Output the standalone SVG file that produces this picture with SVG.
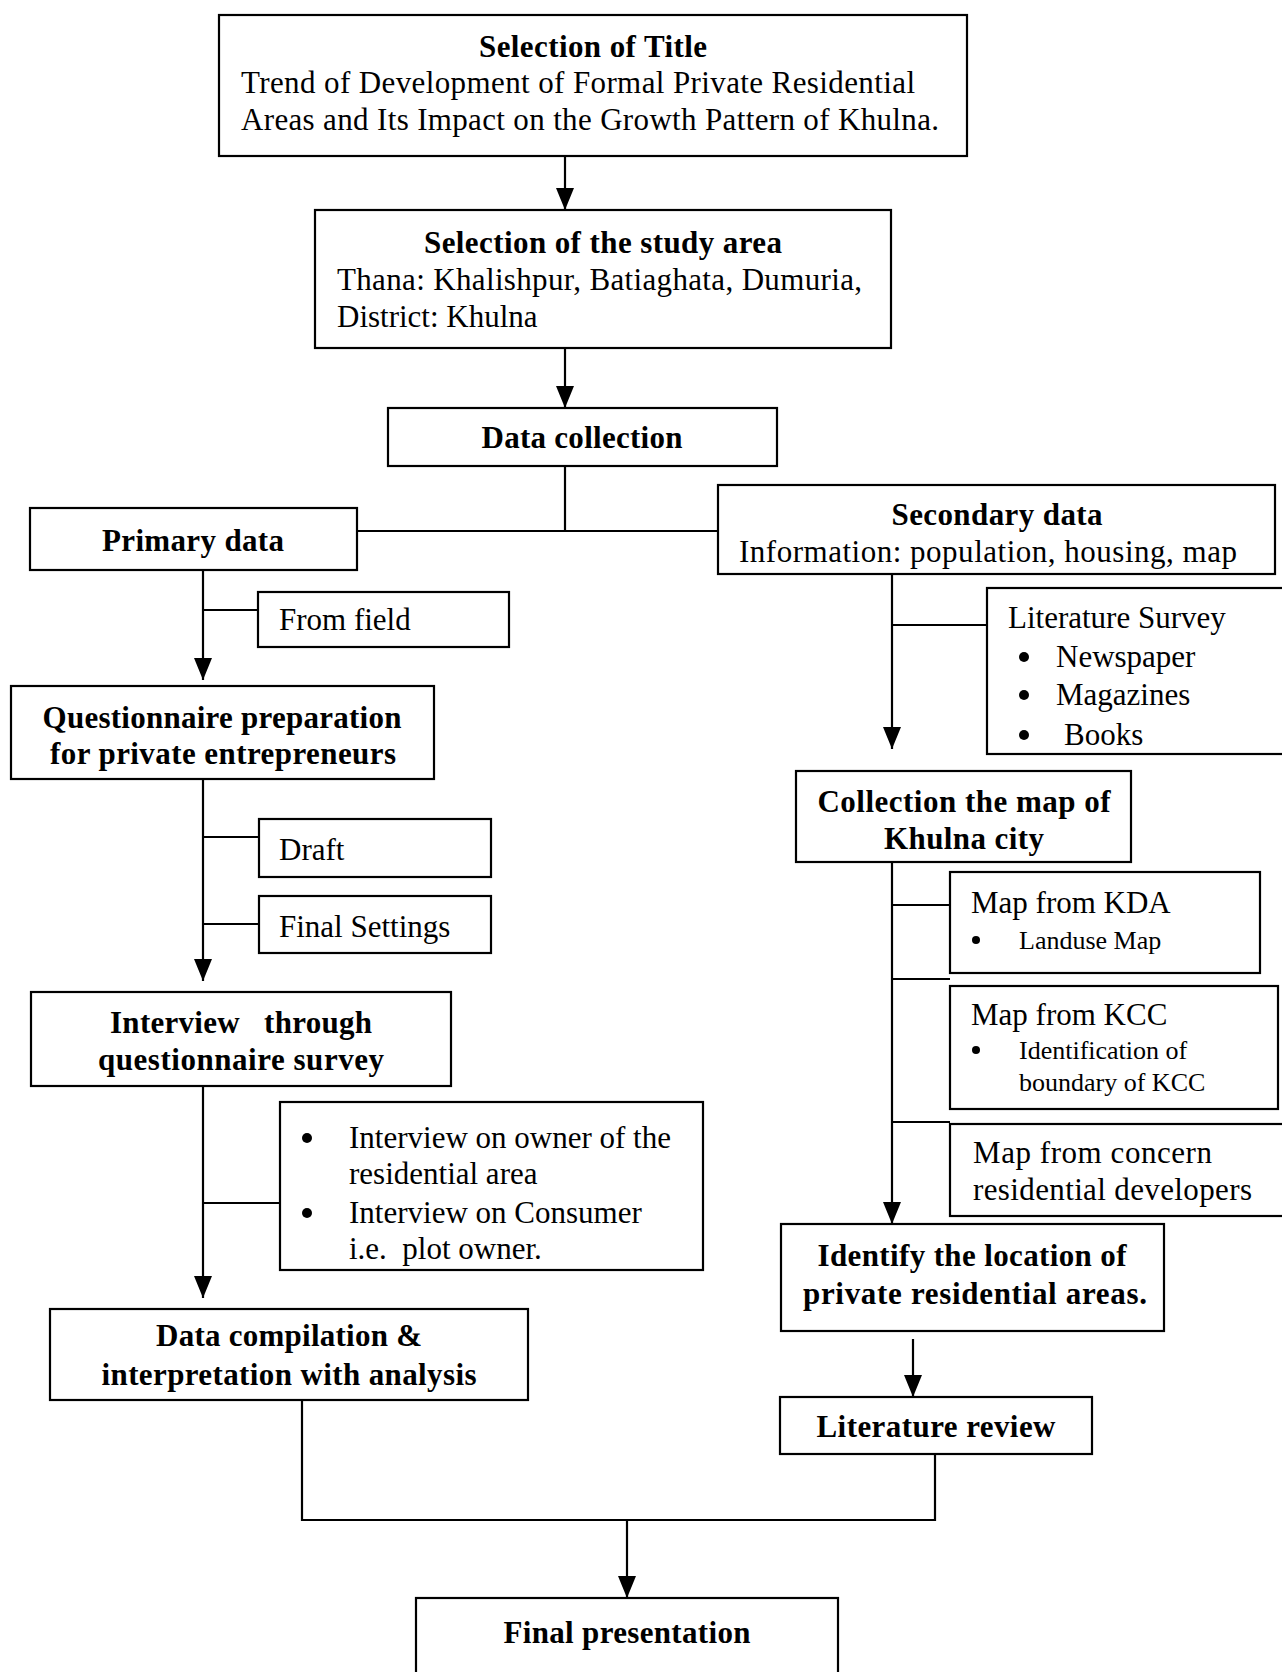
<svg xmlns="http://www.w3.org/2000/svg" width="1282" height="1672" viewBox="0 0 1282 1672">
<defs>
<marker id="arr" markerUnits="userSpaceOnUse" markerWidth="22" markerHeight="18" refX="22" refY="9" orient="auto" viewBox="0 0 22 18">
<path d="M0,0 L22,9 L0,18 Z" fill="#000"/>
</marker>
<style>
.box{fill:#fff;stroke:#000;stroke-width:2.2}
.ln{fill:none;stroke:#000;stroke-width:2.2}
.ar{fill:none;stroke:#000;stroke-width:2.2}
.dot{fill:#000}
text{font-family:"Liberation Serif","Times New Roman",serif;fill:#000;font-size:31px}
.b{font-weight:bold}
.c{text-anchor:middle}
.s{font-size:26px}
</style>
</defs>
<rect width="1282" height="1672" fill="#fff"/>

<g id="connectors">
<line class="ar" x1="565" y1="156" x2="565" y2="210" marker-end="url(#arr)"/>
<line class="ar" x1="565" y1="348" x2="565" y2="408" marker-end="url(#arr)"/>
<polyline class="ln" points="565,466 565,531"/>
<line class="ln" x1="357" y1="531" x2="718" y2="531"/>
<line class="ar" x1="203" y1="570" x2="203" y2="680" marker-end="url(#arr)"/>
<line class="ln" x1="203" y1="610" x2="258" y2="610"/>
<line class="ar" x1="203" y1="779" x2="203" y2="981" marker-end="url(#arr)"/>
<line class="ln" x1="203" y1="837" x2="259" y2="837"/>
<line class="ln" x1="203" y1="924" x2="259" y2="924"/>
<line class="ar" x1="203" y1="1086" x2="203" y2="1298" marker-end="url(#arr)"/>
<line class="ln" x1="203" y1="1203" x2="280" y2="1203"/>
<polyline class="ln" points="302,1400 302,1520 935,1520 935,1454"/>
<line class="ar" x1="627" y1="1520" x2="627" y2="1598" marker-end="url(#arr)"/>
<line class="ar" x1="892" y1="574" x2="892" y2="749" marker-end="url(#arr)"/>
<line class="ln" x1="892" y1="625" x2="987" y2="625"/>
<line class="ar" x1="892" y1="862" x2="892" y2="1224" marker-end="url(#arr)"/>
<line class="ln" x1="892" y1="905" x2="950" y2="905"/>
<line class="ln" x1="892" y1="979" x2="950" y2="979"/>
<line class="ln" x1="892" y1="1122" x2="950" y2="1122"/>
<line class="ar" x1="913" y1="1339" x2="913" y2="1397" marker-end="url(#arr)"/>
</g>

<g id="title">
<rect class="box" x="219" y="15" width="748" height="141"/>
<text class="b c" x="593" y="57" textLength="228">Selection of Title</text>
<text x="241" y="93" textLength="674">Trend of Development of Formal Private Residential</text>
<text x="241" y="130" textLength="698">Areas and Its Impact on the Growth Pattern of Khulna.</text>
</g>

<g id="study-area">
<rect class="box" x="315" y="210" width="576" height="138"/>
<text class="b c" x="603" y="253" textLength="358">Selection of the study area</text>
<text x="337" y="290" textLength="525">Thana: Khalishpur, Batiaghata, Dumuria,</text>
<text x="337" y="327">District: Khulna</text>
</g>

<g id="data-collection">
<rect class="box" x="388" y="408" width="389" height="58"/>
<text class="b c" x="582" y="448" textLength="201">Data collection</text>
</g>

<g id="primary-data">
<rect class="box" x="30" y="508" width="327" height="62"/>
<text class="b c" x="193" y="551" textLength="182">Primary data</text>
</g>

<g id="secondary-data">
<rect class="box" x="718" y="485" width="557" height="89"/>
<text class="b c" x="997" y="525" textLength="211">Secondary data</text>
<text class="c" x="988" y="562" textLength="498">Information: population, housing, map</text>
</g>

<g id="from-field">
<rect class="box" x="258" y="592" width="251" height="55"/>
<text x="279" y="630">From field</text>
</g>

<g id="questionnaire">
<rect class="box" x="11" y="686" width="423" height="93"/>
<text class="b c" x="222" y="728" textLength="359">Questionnaire preparation</text>
<text class="b c" x="223" y="764" textLength="346">for private entrepreneurs</text>
</g>

<g id="draft">
<rect class="box" x="259" y="819" width="232" height="58"/>
<text x="279" y="860">Draft</text>
</g>

<g id="final-settings">
<rect class="box" x="259" y="896" width="232" height="57"/>
<text x="279" y="937">Final Settings</text>
</g>

<g id="interview">
<rect class="box" x="31" y="992" width="420" height="94"/>
<text class="b" x="110" y="1033" textLength="262" xml:space="preserve">Interview   through</text>
<text class="b c" x="241" y="1070" textLength="286">questionnaire survey</text>
</g>

<g id="interview-details">
<rect class="box" x="280" y="1102" width="423" height="168"/>
<circle class="dot" cx="307" cy="1138" r="5"/>
<text x="349" y="1148">Interview on owner of the</text>
<text x="349" y="1184">residential area</text>
<circle class="dot" cx="307" cy="1213" r="5"/>
<text x="349" y="1223">Interview on Consumer</text>
<text x="349" y="1259" xml:space="preserve">i.e.  plot owner.</text>
</g>

<g id="data-compilation">
<rect class="box" x="50" y="1309" width="478" height="91"/>
<text class="b c" x="289" y="1346" textLength="266">Data compilation &amp;</text>
<text class="b c" x="289" y="1385" textLength="375">interpretation with analysis</text>
</g>

<g id="literature-survey">
<rect class="box" x="987" y="588" width="300" height="166"/>
<text x="1008" y="628">Literature Survey</text>
<circle class="dot" cx="1024" cy="657" r="5"/>
<text x="1056" y="667">Newspaper</text>
<circle class="dot" cx="1024" cy="695" r="5"/>
<text x="1056" y="705">Magazines</text>
<circle class="dot" cx="1024" cy="735" r="5"/>
<text x="1064" y="745">Books</text>
</g>

<g id="collection-map">
<rect class="box" x="796" y="771" width="335" height="91"/>
<text class="b c" x="964" y="812" textLength="293">Collection the map of</text>
<text class="b c" x="964" y="849" textLength="160">Khulna city</text>
</g>

<g id="map-kda">
<rect class="box" x="950" y="872" width="310" height="101"/>
<text x="971" y="913">Map from KDA</text>
<circle class="dot" cx="976" cy="940" r="4"/>
<text class="s" x="1019" y="949">Landuse Map</text>
</g>

<g id="map-kcc">
<rect class="box" x="950" y="986" width="328" height="123"/>
<text x="971" y="1025">Map from KCC</text>
<circle class="dot" cx="976" cy="1050" r="4"/>
<text class="s" x="1019" y="1059">Identification of</text>
<text class="s" x="1019" y="1091">boundary of KCC</text>
</g>

<g id="map-concern">
<rect class="box" x="950" y="1124" width="340" height="92"/>
<text x="973" y="1163" textLength="239">Map from concern</text>
<text x="973" y="1200" textLength="279">residential developers</text>
</g>

<g id="identify-location">
<rect class="box" x="781" y="1224" width="383" height="107"/>
<text class="b c" x="972" y="1266" textLength="309">Identify the location of</text>
<text class="b c" x="975" y="1304" textLength="344">private residential areas.</text>
</g>

<g id="literature-review">
<rect class="box" x="780" y="1397" width="312" height="57"/>
<text class="b c" x="936" y="1437" textLength="239">Literature review</text>
</g>

<g id="final-presentation">
<rect class="box" x="416" y="1598" width="422" height="80"/>
<text class="b c" x="627" y="1643" textLength="247">Final presentation</text>
</g>
</svg>
